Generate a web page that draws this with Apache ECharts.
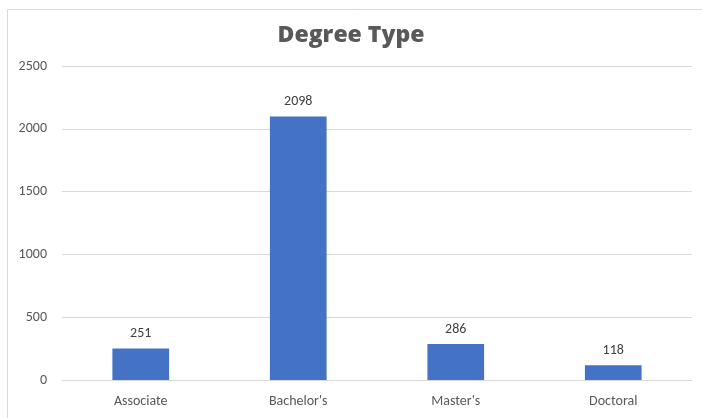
<!DOCTYPE html>
<html><head><meta charset="utf-8">
<script src="https://cdn.jsdelivr.net/npm/echarts@6/dist/echarts.min.js"></script>
<style>html,body{margin:0;padding:0;background:#fff;}#c{width:702px;height:418px;}</style>
</head><body><div id="c"></div>
<script>
const categories = ["Associate", "Bachelor's", "Master's", "Doctoral"];
const values = [251, 2098, 286, 118];
const yTicks = [0, 500, 1000, 1500, 2000, 2500];

const FONT = 'Carlito, Calibri, "Liberation Sans", sans-serif';
const chart = echarts.init(document.getElementById('c'));
chart.setOption({
  animation: false,
  graphic: [{
    type: 'rect', shape: {x: 7.5, y: 9.5, width: 720, height: 430},
    style: {fill: 'none', stroke: '#d9d9d9', lineWidth: 1}, silent: true, z: -1
  }],
  title: {
    text: 'Degree Type', left: 'center', top: 19,
    textStyle: {fontFamily: 'Open Sans', fontWeight: 800, fontSize: 23, color: '#595959'}
  },
  grid: {left: 62, right: 10, top: 66, bottom: 38, containLabel: false},
  xAxis: {
    type: 'category', data: categories,
    axisLine: {lineStyle: {color: '#d9d9d9'}},
    axisTick: {show: false},
    axisLabel: {color: '#595959', fontSize: 14, fontFamily: FONT, margin: 14}
  },
  yAxis: {
    type: 'value', min: yTicks[0], max: yTicks[yTicks.length - 1], interval: 500,
    axisLine: {show: false}, axisTick: {show: false},
    splitLine: {lineStyle: {color: '#d9d9d9'}},
    axisLabel: {color: '#595959', fontSize: 14, fontFamily: FONT, margin: 15,
      formatter: v => String(v)}
  },
  series: [{
    type: 'bar', data: values, barWidth: '36%',
    itemStyle: {color: '#4472C4'},
    label: {show: true, position: 'top', distance: 8, color: '#404040', fontSize: 14,
      fontFamily: FONT}
  }]
});
</script></body></html>
